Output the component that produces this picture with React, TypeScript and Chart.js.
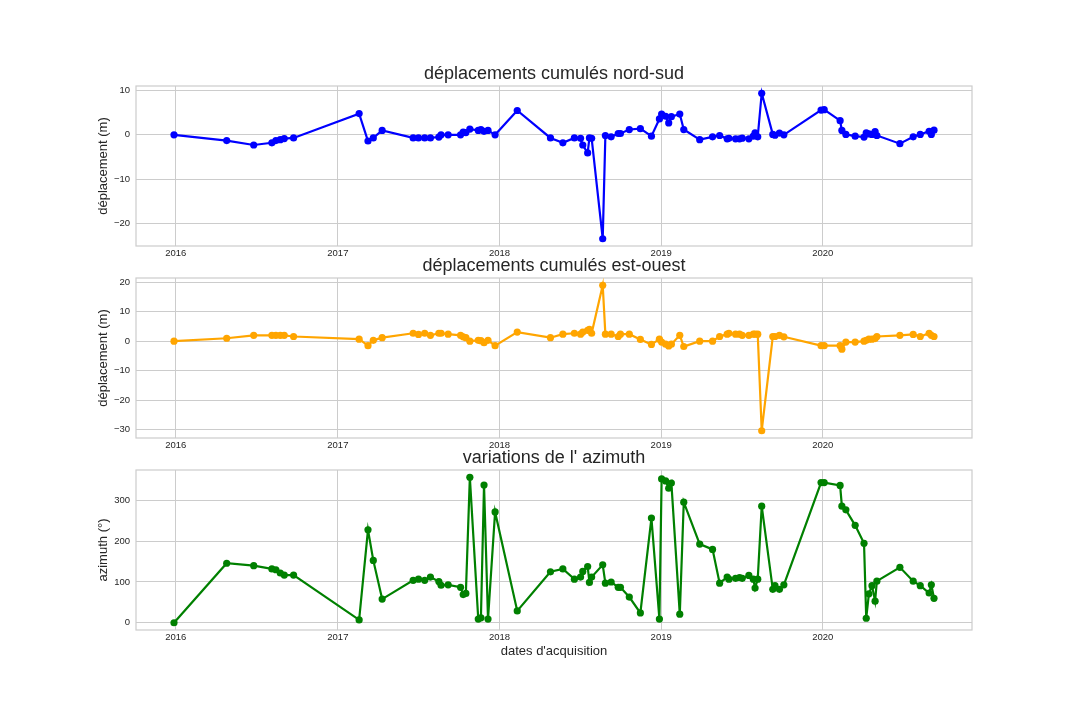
import React, { useEffect, useRef } from "react";
import { Chart, registerables } from "chart.js";

Chart.register(...registerables);

const dates = [
  "2015-12-28", "2016-04-25", "2016-06-25", "2016-08-05", "2016-08-14", "2016-08-24", "2016-09-02", "2016-09-23",
  "2017-02-18", "2017-03-10", "2017-03-22", "2017-04-11", "2017-06-20", "2017-07-02", "2017-07-16", "2017-07-29",
  "2017-08-17", "2017-08-22", "2017-09-07", "2017-10-05", "2017-10-11", "2017-10-17", "2017-10-26", "2017-11-14",
  "2017-11-20", "2017-11-27", "2017-12-06", "2017-12-22", "2018-02-10", "2018-04-26", "2018-05-24", "2018-06-19",
  "2018-07-03", "2018-07-08", "2018-07-19", "2018-07-23", "2018-07-28", "2018-08-22", "2018-08-28", "2018-09-10",
  "2018-09-26", "2018-10-01", "2018-10-21", "2018-11-15", "2018-12-10", "2018-12-28", "2019-01-02", "2019-01-11",
  "2019-01-18", "2019-01-24", "2019-02-12", "2019-02-21", "2019-03-29", "2019-04-27", "2019-05-13", "2019-05-30",
  "2019-06-03", "2019-06-18", "2019-06-27", "2019-07-03", "2019-07-18", "2019-07-28", "2019-08-01", "2019-08-07",
  "2019-08-16", "2019-09-10", "2019-09-15", "2019-09-25", "2019-10-05", "2019-12-28", "2020-01-04", "2020-02-09",
  "2020-02-13", "2020-02-22", "2020-03-14", "2020-04-03", "2020-04-08", "2020-04-14", "2020-04-21", "2020-04-28",
  "2020-05-02", "2020-06-23", "2020-07-23", "2020-08-08", "2020-08-28", "2020-09-02", "2020-09-08",
];

const nordSud = [
  0, -1.3, -2.3, -1.8, -1.3, -1.1, -0.85, -0.7,
  4.8, -1.4, -0.7, 1.0, -0.7, -0.7, -0.7, -0.7,
  -0.5, 0, 0, 0, 0.6, 0.5, 1.3, 1.0,
  1.2, 0.8, 1.0, 0, 5.5, -0.7, -1.8, -0.7,
  -0.8, -2.3, -4.1, -0.7, -0.8, -23.5, -0.15, -0.45,
  0.3, 0.3, 1.2, 1.4, -0.3, 3.6, 4.7, 4.2,
  2.7, 4.1, 4.7, 1.2, -1.1, -0.45, -0.15, -0.9,
  -0.8, -0.9, -0.9, -0.75, -0.9, -0.3, 0.45, -0.45,
  9.4, 0.1, -0.1, 0.4, 0, 5.6, 5.7, 3.2,
  1.0, 0.1, -0.3, -0.5, 0.45, 0.2, 0.1, 0.75,
  -0.15, -2.0, -0.45, 0.1, 0.8, 0.1, 1.05,
];

const estOuest = [
  0, 1.0, 2.0, 2.0, 2.0, 2.0, 2.0, 1.6,
  0.7, -1.5, 0.3, 1.2, 2.7, 2.3, 2.7, 2.0,
  2.7, 2.7, 2.4, 2.0, 1.5, 1.2, 0, 0.3,
  0.2, -0.5, 0.3, -1.5, 3.1, 1.2, 2.4, 2.7,
  2.4, 3.1, 3.7, 4.0, 2.7, 19.0, 2.4, 2.4,
  1.6, 2.4, 2.4, 0.6, -1.1, 0.7, -0.3, -1.0,
  -1.6, -1.0, 2.0, -1.8, 0, 0, 1.6, 2.4,
  2.7, 2.4, 2.4, 2.0, 2.0, 2.4, 2.4, 2.4,
  -30.4, 1.6, 1.6, 2.0, 1.5, -1.5, -1.5, -1.5,
  -2.7, -0.3, -0.3, 0, 0.3, 0.7, 0.7, 0.9,
  1.6, 2.0, 2.3, 1.6, 2.7, 2.0, 1.6,
];

const azimuth = [
  0, 146, 140, 132, 130, 122, 117, 117,
  7, 228, 153, 58, 104, 107, 104, 112,
  101, 92, 93, 87, 69, 72, 357, 9,
  12, 338, 9, 272, 29, 125, 132, 107,
  112, 126, 138, 99, 112, 142, 97, 100,
  87, 87, 63, 24, 257, 9, 353, 348,
  330, 343, 21, 296, 193, 180, 97, 112,
  107, 109, 111, 109, 116, 107, 85, 107,
  286, 82, 91, 82, 93, 344, 344, 337,
  286, 277, 239, 195, 11, 71, 91, 53,
  102, 136, 102, 91, 73, 93, 60,
];

const yearTicks = ["2016-01-01", "2017-01-01", "2018-01-01", "2019-01-01", "2020-01-01"];
const nsTicks = [-20, -10, 0, 10];
const eoTicks = [-30, -20, -10, 0, 10, 20];
const azTicks = [0, 100, 200, 300];

const FONT = "'Liberation Sans', Arial, 'DejaVu Sans', sans-serif";
const TEXT = "#262626";
const GRID = "#cccccc";
const AREA_LEFT = 136;
const AREA_RIGHT = 972;
const AREA_H = 160;
const TITLE_BLOCK = 50;
const Y_PAD_LEFT = 96;

const ts = (d: string) => new Date(d + "T00:00:00Z").getTime();

function range(vals: number[]) {
  const lo = Math.min(...vals);
  const hi = Math.max(...vals);
  const m = (hi - lo) * 0.05;
  return [lo - m, hi + m];
}

const fmt = (v: number) => (v < 0 ? "\u2212" + String(Math.abs(v)) : String(v));

const framePlugin = {
  id: "frame",
  beforeDatasetsDraw(chart: any) {
    const { ctx, chartArea } = chart;
    ctx.save();
    ctx.strokeStyle = GRID;
    ctx.lineWidth = 1.2;
    ctx.strokeRect(chartArea.left, chartArea.top, chartArea.right - chartArea.left, chartArea.bottom - chartArea.top);
    ctx.restore();
  },
};

type PanelProps = {
  title: string;
  values: number[];
  color: string;
  yTicks: number[];
  yLabel: string;
  areaTop: number;
  xLabel?: string;
};

function Panel({ title, values, color, yTicks, yLabel, areaTop, xLabel }: PanelProps) {
  const ref = useRef<HTMLCanvasElement | null>(null);
  const xH = xLabel ? 29 : 20;
  const height = TITLE_BLOCK + AREA_H + xH;

  useEffect(() => {
    if (!ref.current) return;
    const xs = dates.map(ts);
    const [xMin, xMax] = range(xs);
    const [yMin, yMax] = range(values);
    const yearTs = yearTicks.map(ts);
    const chart = new Chart(ref.current, {
      type: "line",
      data: {
        datasets: [
          {
            data: xs.map((x, i) => ({ x, y: values[i] })),
            borderColor: color,
            backgroundColor: color,
            pointBackgroundColor: color,
            pointBorderColor: color,
            pointBorderWidth: 0,
            pointRadius: 3.6,
            borderWidth: 2.2,
            tension: 0,
            fill: false,
          },
        ],
      },
      options: {
        animation: false,
        responsive: false,
        devicePixelRatio: 1,
        layout: { padding: { left: Y_PAD_LEFT, right: 1080 - AREA_RIGHT, top: 0, bottom: 0 } },
        plugins: {
          legend: { display: false },
          tooltip: { enabled: false },
          title: {
            display: true,
            fullSize: false,
            text: title,
            color: TEXT,
            font: { family: FONT, size: 18, weight: "normal", lineHeight: 1.2 },
            padding: { top: TITLE_BLOCK - 12 - 10.8, bottom: 12 - 10.8 },
          },
        },
        scales: {
          x: {
            type: "linear",
            min: xMin,
            max: xMax,
            grid: { color: GRID, drawTicks: false, lineWidth: 1 },
            border: { display: false },
            ticks: {
              color: TEXT,
              font: { family: FONT, size: 9.5 },
              padding: 2,
              maxRotation: 0,
              autoSkip: false,
              callback: (v: any) => String(new Date(Number(v)).getUTCFullYear()),
            },
            afterBuildTicks: (s: any) => {
              s.ticks = yearTs.map((v) => ({ value: v }));
            },
            afterFit: (s: any) => {
              s.height = xH;
            },
            title: xLabel
              ? {
                  display: true,
                  text: xLabel,
                  color: TEXT,
                  font: { family: FONT, size: 13, lineHeight: 1.2 },
                  padding: { top: 0, bottom: 0 },
                }
              : { display: false },
          },
          y: {
            type: "linear",
            min: yMin,
            max: yMax,
            grid: { color: GRID, drawTicks: false, lineWidth: 1 },
            border: { display: false },
            ticks: {
              color: TEXT,
              font: { family: FONT, size: 9.5 },
              padding: 6,
              callback: (v: any) => fmt(Number(v)),
            },
            afterBuildTicks: (s: any) => {
              s.ticks = yTicks.map((v) => ({ value: v }));
            },
            afterFit: (s: any) => {
              s.width = AREA_LEFT - Y_PAD_LEFT;
            },
            title: {
              display: true,
              text: yLabel,
              color: TEXT,
              font: { family: FONT, size: 13, lineHeight: 1.2 },
              padding: { top: 0, bottom: 0 },
            },
          },
        },
      },
      plugins: [framePlugin],
    } as any);
    return () => chart.destroy();
  }, []);

  return (
    <canvas
      ref={ref}
      width={1080}
      height={height}
      style={{ position: "absolute", left: 0, top: areaTop - TITLE_BLOCK, width: 1080, height, display: "block" }}
    />
  );
}

export default function App() {
  return (
    <div style={{ position: "absolute", left: 0, top: 0, width: 1080, height: 720, background: "#ffffff", overflow: "hidden" }}>
      <Panel title="déplacements cumulés nord-sud" values={nordSud} color="#0000ff" yTicks={nsTicks} yLabel="déplacement (m)" areaTop={86} />
      <Panel title="déplacements cumulés est-ouest" values={estOuest} color="#ffa500" yTicks={eoTicks} yLabel="déplacement (m)" areaTop={278} />
      <Panel title="variations de l' azimuth" values={azimuth} color="#008000" yTicks={azTicks} yLabel="azimuth (°)" areaTop={470} xLabel="dates d'acquisition" />
    </div>
  );
}
